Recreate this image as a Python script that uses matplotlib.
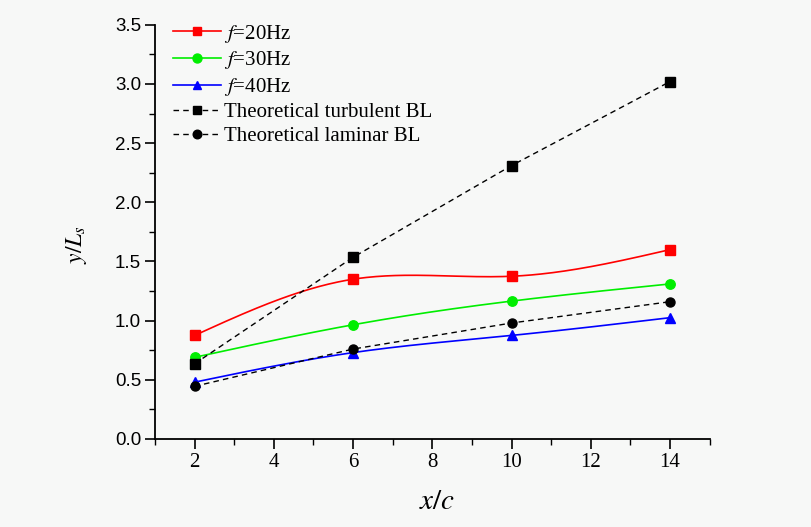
import numpy as np
import matplotlib
matplotlib.use("Agg")
import matplotlib.pyplot as plt
from matplotlib.ticker import MultipleLocator, FormatStrFormatter

plt.rcParams["mathtext.fontset"] = "stix"

x_c = [2, 6, 10, 14]
f20 = [0.875, 1.35, 1.375, 1.60]
f30 = [0.69, 0.965, 1.165, 1.31]
f40 = [0.48, 0.73, 0.875, 1.025]
turb = [0.635, 1.535, 2.31, 3.02]
lam = [0.445, 0.76, 0.98, 1.16]


def natural_spline(x, y, n=200):
    x = np.asarray(x, float)
    y = np.asarray(y, float)
    m = len(x)
    h = np.diff(x)
    A = np.zeros((m, m))
    b = np.zeros(m)
    A[0, 0] = A[-1, -1] = 1
    for i in range(1, m - 1):
        A[i, i - 1] = h[i - 1]
        A[i, i] = 2 * (h[i - 1] + h[i])
        A[i, i + 1] = h[i]
        b[i] = 6 * ((y[i + 1] - y[i]) / h[i] - (y[i] - y[i - 1]) / h[i - 1])
    M = np.linalg.solve(A, b)
    xs = np.linspace(x[0], x[-1], n)
    ys = np.empty_like(xs)
    for k, xv in enumerate(xs):
        i = min(np.searchsorted(x, xv, side="right") - 1, m - 2)
        t1 = x[i + 1] - xv
        t0 = xv - x[i]
        ys[k] = (M[i] * t1 ** 3 / (6 * h[i]) + M[i + 1] * t0 ** 3 / (6 * h[i])
                 + (y[i] / h[i] - M[i] * h[i] / 6) * t1
                 + (y[i + 1] / h[i] - M[i + 1] * h[i] / 6) * t0)
    return xs, ys


bg = "#f7f8f7"
fig = plt.figure(figsize=(8.11, 5.27), dpi=100, facecolor=bg)
ax = fig.add_axes([0.191, 0.167, 0.684, 0.786], facecolor=bg)

serif = ["Liberation Serif", "DejaVu Serif"]

for ys, col, mk, lab in [(f20, "#ff0000", "s", "$f$=20Hz"),
                         (f30, "#00ee00", "o", "$f$=30Hz"),
                         (f40, "#0000ff", "^", "$f$=40Hz")]:
    sx, sy = natural_spline(x_c, ys)
    ax.plot(sx, sy, color=col, lw=1.2, zorder=2)
    ax.plot(x_c, ys, ls="none", marker=mk, color=col, ms=6.8, zorder=3)
    ax.plot([], [], color=col, lw=1.2, marker=mk, ms=6.8, label=lab)

ax.plot(x_c, turb, color="black", ls=(0, (4, 3)), lw=1.0, marker="s", ms=6.5,
        label="Theoretical turbulent BL", zorder=3)
ax.plot(x_c, lam, color="black", ls=(0, (4, 3)), lw=1.0, marker="o", ms=6.5,
        label="Theoretical laminar BL", zorder=3)

ax.set_xlim(1, 15)
ax.set_ylim(0, 3.5)
ax.spines["top"].set_visible(False)
ax.spines["right"].set_visible(False)
for s in ("left", "bottom"):
    ax.spines[s].set_linewidth(1.3)

ax.set_xticks([2, 4, 6, 8, 10, 12, 14])
ax.xaxis.set_minor_locator(MultipleLocator(1))
ax.yaxis.set_major_locator(MultipleLocator(0.5))
ax.yaxis.set_minor_locator(MultipleLocator(0.25))
ax.tick_params(axis="both", which="major", direction="out", length=7, width=1.2)
ax.tick_params(axis="both", which="minor", direction="out", length=4, width=1.0)
ax.tick_params(axis="y", labelsize=13.5, pad=3)
ax.tick_params(axis="x", labelsize=15, pad=3)
ax.yaxis.set_major_formatter(FormatStrFormatter("%.1f"))
for lbl in ax.get_yticklabels():
    lbl.set_family(["Liberation Sans", "DejaVu Sans"])
for lbl in ax.get_xticklabels():
    lbl.set_family(serif)

ax.set_xlabel("$x/c$", fontsize=21)
ax.xaxis.set_label_coords(0.508, -0.115)
ax.set_ylabel("$y/L_s$", fontsize=17)
ax.yaxis.set_label_coords(-0.118, 0.47)

leg = ax.legend(loc="upper left", bbox_to_anchor=(0.01, 1.035), frameon=False,
                prop={"family": serif, "size": 15}, handlelength=2.3,
                handletextpad=0.15, labelspacing=0.22, borderaxespad=0.2,
                markerscale=0.95)

fig.savefig("out.png", dpi=100, facecolor=bg)
